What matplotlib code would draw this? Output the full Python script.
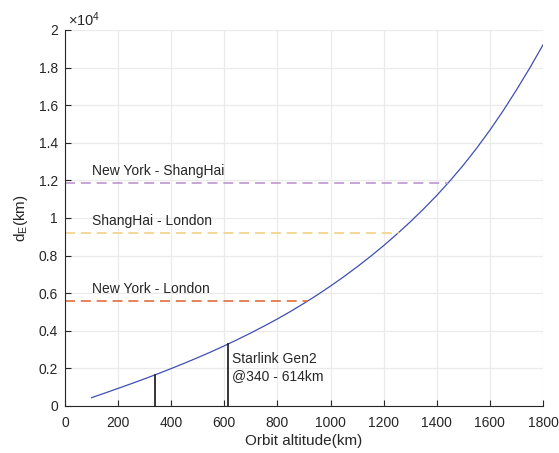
import matplotlib.pyplot as plt
from matplotlib.ticker import FuncFormatter, MultipleLocator

plt.rcParams['font.family'] = ['Liberation Sans', 'DejaVu Sans']
plt.rcParams['mathtext.fontset'] = 'custom'
plt.rcParams['mathtext.rm'] = 'Liberation Sans'
plt.rcParams['mathtext.it'] = 'Liberation Sans:italic'

# --- Data ---
altitude = [100, 150, 200, 250, 300, 350, 400, 450, 500, 550, 600, 650,
            700, 750, 800, 850, 900, 950, 1000, 1050, 1100, 1150, 1200,
            1250, 1300, 1350, 1400, 1450, 1500, 1550, 1600, 1650, 1700,
            1750, 1800]
d_E = [441, 686, 936, 1188, 1446, 1714, 1991, 2277, 2571, 2880, 3201, 3537,
       3886, 4251, 4631, 5035, 5461, 5909, 6381, 6878, 7401, 7952, 8531,
       9145, 9791, 10477, 11201, 11981, 12811, 13710, 14671, 15707, 16811,
       17976, 19211]

routes = ['New York - ShangHai', 'ShangHai - London', 'New York - London']
route_dist = [11880, 9220, 5585]
route_end = [1443, 1257, 910]
route_colors = ['#BF96CC', '#F2D184', '#E26E3D']

starlink_alt = [340, 614]
starlink_d = [1650, 3298]

# --- Figure ---
fig = plt.figure(figsize=(5.59, 4.53), dpi=100)
ax = fig.add_axes([0.1163, 0.1038, 0.8551, 0.8300])

ax.plot(altitude, d_E, color='#3F4FB3', lw=0.9)

for name, d, end, c in zip(routes, route_dist, route_end, route_colors):
    ax.plot([0, end], [d, d], color=c, lw=1.2, dashes=(6, 3.5))
    ax.text(100, d + 250, name, fontsize=10, color='#262626', va='bottom')

for a, d in zip(starlink_alt, starlink_d):
    ax.plot([a, a], [0, d], color='#262626', lw=1.3)
ax.text(630, 2030, 'Starlink Gen2\n@340 - 614km', fontsize=10,
        color='#262626', va='center', linespacing=1.25)

# --- Axes styling (MATLAB-like) ---
ax.set_xlim(0, 1800)
ax.set_ylim(0, 20000)
ax.xaxis.set_major_locator(MultipleLocator(200))
ax.yaxis.set_major_locator(MultipleLocator(2000))
ax.yaxis.set_major_formatter(FuncFormatter(lambda v, p: f'{v / 1e4:g}'))
ax.grid(True, color='#EBEBEB', lw=0.9)
ax.set_axisbelow(True)
for s in ['top', 'right']:
    ax.spines[s].set_visible(False)
for s in ['left', 'bottom']:
    ax.spines[s].set_color('#262626')
    ax.spines[s].set_linewidth(0.8)
ax.tick_params(direction='in', length=4, width=0.8, color='#262626',
               labelsize=10, labelcolor='#262626')
ax.tick_params(axis='x', pad=7)
ax.tick_params(axis='y', pad=5)

ax.text(0.006, 1.003, '×10$^{4}$', transform=ax.transAxes, fontsize=10.5,
        color='#262626', va='bottom', ha='left')

ax.set_xlabel('Orbit altitude(km)', fontsize=11, color='#262626', labelpad=3)
ax.set_ylabel(r'd$_\mathregular{E}$(km)', fontsize=11, color='#262626', labelpad=6)

plt.savefig('out.png', dpi=100)
